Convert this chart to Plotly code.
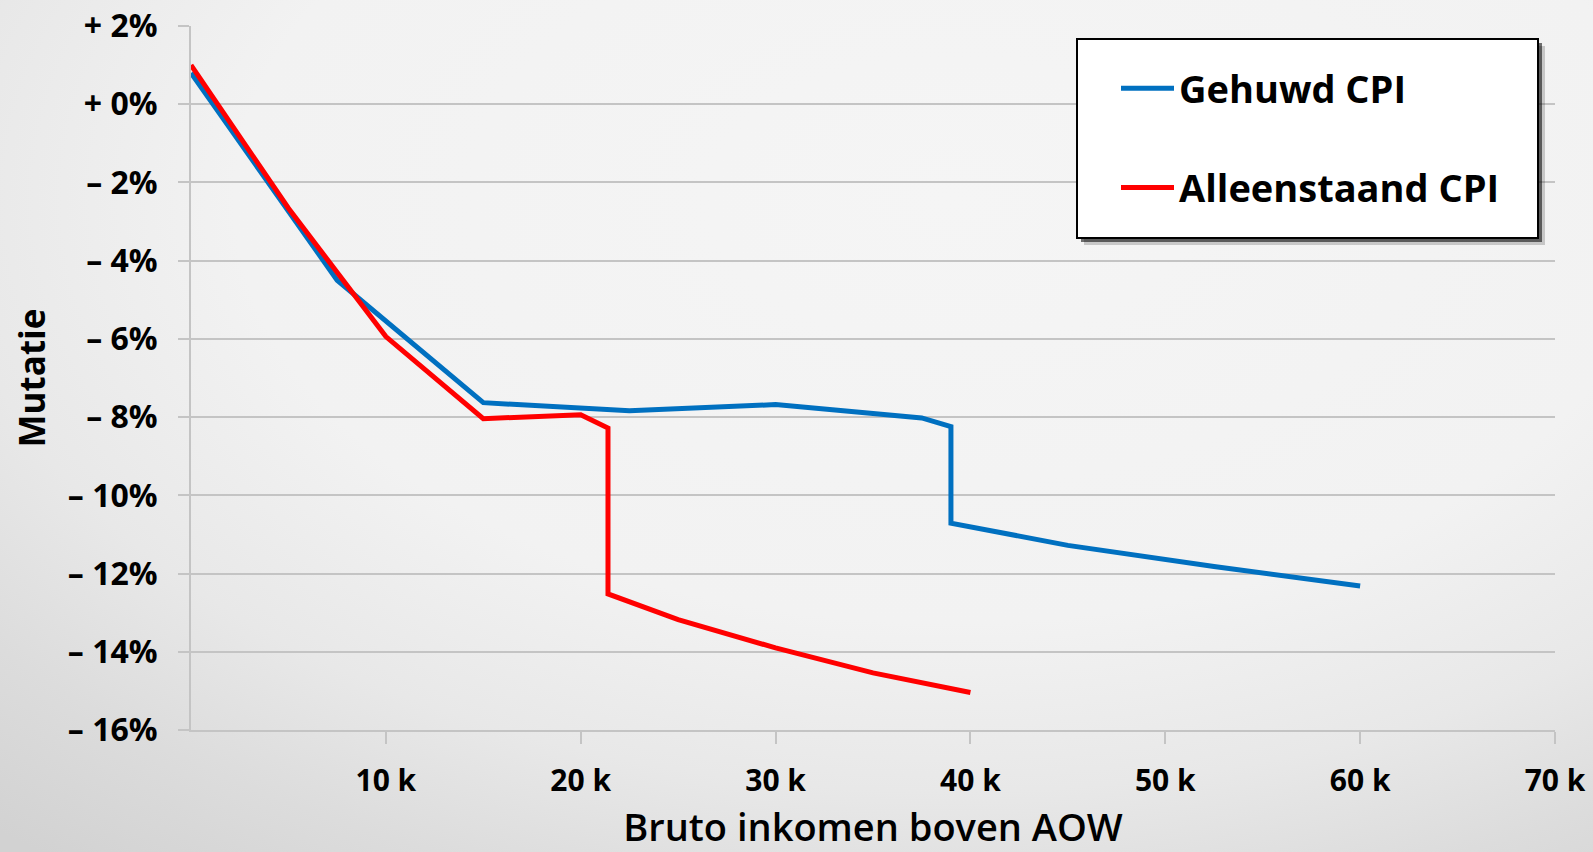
import base64
import plotly.graph_objects as go

# ---- data (x in thousands of euro, y in %) ----
gehuwd_x = [0, 5, 7.5, 15, 22.5, 30, 37.5, 39, 39, 45, 52.5, 60]
gehuwd_y = [0.8, -2.7, -4.5, -7.63, -7.84, -7.68, -8.02, -8.24, -10.71, -11.28, -11.82, -12.32]

alleen_x = [0, 5, 10, 15, 20, 21.4, 21.4, 25, 30, 35, 40]
alleen_y = [1.0, -2.66, -5.94, -8.04, -7.94, -8.28, -12.52, -13.18, -13.9, -14.54, -15.04]

y_ticks = [2, 0, -2, -4, -6, -8, -10, -12, -14, -16]
y_ticktext = ["+ 2%", "+ 0%", "\u2013 2%", "\u2013 4%", "\u2013 6%", "\u2013 8%",
              "\u2013 10%", "\u2013 12%", "\u2013 14%", "\u2013 16%"]
x_ticks = [10, 20, 30, 40, 50, 60, 70]
x_ticktext = ["10 k", "20 k", "30 k", "40 k", "50 k", "60 k", "70 k"]

W, H = 1593, 852
ML, MR, MT, MB = 191, 38, 26, 122
PW, PH = W - ML - MR, H - MT - MB

FONT = "Open Sans"


def px_x(v):
    return (v - ML) / PW


def px_y(v):
    return 1 - (v - MT) / PH


svg = (
    f'<svg xmlns="http://www.w3.org/2000/svg" width="{W}" height="{H}" viewBox="0 0 {W} {H}" '
    'preserveAspectRatio="none">'
    '<defs><radialGradient id="g" gradientUnits="userSpaceOnUse" cx="0" cy="0" r="1" '
    'gradientTransform="translate(950,200) scale(1430,845)">'
    '<stop offset="0" stop-color="#f5f5f5"/>'
    '<stop offset="0.5" stop-color="#f2f2f2"/>'
    '<stop offset="0.7" stop-color="#e8e8e8"/>'
    '<stop offset="0.85" stop-color="#dcdcdc"/>'
    '<stop offset="1" stop-color="#d2d2d2"/>'
    f'</radialGradient></defs><rect width="{W}" height="{H}" fill="url(#g)"/></svg>'
)
bg_src = "data:image/svg+xml;base64," + base64.b64encode(svg.encode()).decode()

fig = go.Figure()
fig.add_trace(go.Scatter(x=gehuwd_x, y=gehuwd_y, mode="lines", name="Gehuwd CPI",
                         line=dict(color="#0070C0", width=5), legendgroup="a"))
fig.add_trace(go.Scatter(x=alleen_x, y=alleen_y, mode="lines", name="Alleenstaand CPI",
                         line=dict(color="#FF0000", width=5), legendgroup="b"))

# legend box (white with black border and drop shadow)
bx0, by0, bx1, by1 = 1077, 39, 1538, 238
shapes = [
    dict(type="rect", xref="paper", yref="paper", layer="above",
         x0=px_x(bx0 + 7), x1=px_x(bx1 + 7), y0=px_y(by0 + 7), y1=px_y(by1 + 7),
         fillcolor="rgba(0,0,0,0.18)", line=dict(width=0)),
    dict(type="rect", xref="paper", yref="paper", layer="above",
         x0=px_x(bx0 + 4), x1=px_x(bx1 + 4), y0=px_y(by0 + 4), y1=px_y(by1 + 4),
         fillcolor="rgba(0,0,0,0.55)", line=dict(width=0)),
    dict(type="rect", xref="paper", yref="paper", layer="above",
         x0=px_x(bx0), x1=px_x(bx1), y0=px_y(by0), y1=px_y(by1),
         fillcolor="white", line=dict(color="black", width=2)),
]

fig.update_layout(
    width=W, height=H,
    margin=dict(l=ML, r=MR, t=MT, b=MB, pad=0, autoexpand=False),
    paper_bgcolor="#e6e6e6",
    plot_bgcolor="rgba(0,0,0,0)",
    font=dict(family=FONT, color="black"),
    images=[dict(source=bg_src, xref="paper", yref="paper",
                 x=-ML / PW, y=1 + MT / PH, sizex=W / PW, sizey=H / PH,
                 xanchor="left", yanchor="top", sizing="stretch", layer="below")],
    shapes=shapes,
    xaxis=dict(range=[0, 70], tickvals=x_ticks, ticktext=x_ticktext, automargin=False,
               showgrid=False, zeroline=False, showline=True, linecolor="#c4c4c4", linewidth=2,
               ticks="outside", ticklen=12, tickcolor="#c4c4c4", tickwidth=2,
               ticklabelstandoff=11,
               tickfont=dict(size=30, family=FONT, weight="bold"),
               title=dict(text="Bruto inkomen boven AOW",
                          font=dict(size=38, family=FONT, weight=600),
                          standoff=17)),
    yaxis=dict(range=[-16, 2], tickvals=y_ticks, ticktext=y_ticktext, automargin=False,
               showgrid=True, gridcolor="#c4c4c4", gridwidth=2, zeroline=False,
               showline=True, linecolor="#c4c4c4", linewidth=2,
               ticks="outside", ticklen=11, tickcolor="#c4c4c4", tickwidth=2,
               ticklabelstandoff=14,
               tickfont=dict(size=32, family=FONT, weight="bold"),
               title=dict(text="Mutatie", font=dict(size=35, family=FONT, weight="bold"),
                          standoff=12)),
    legend=dict(x=px_x(1116), y=px_y(57), xanchor="left", yanchor="top",
                bgcolor="rgba(0,0,0,0)", borderwidth=0,
                font=dict(size=38, family=FONT, weight="bold", color="black"),
                tracegroupgap=47, itemwidth=53),
    showlegend=True,
)

fig.write_html("out.html", config={"displayModeBar": False},
               post_script="document.body.style.margin='0';")
